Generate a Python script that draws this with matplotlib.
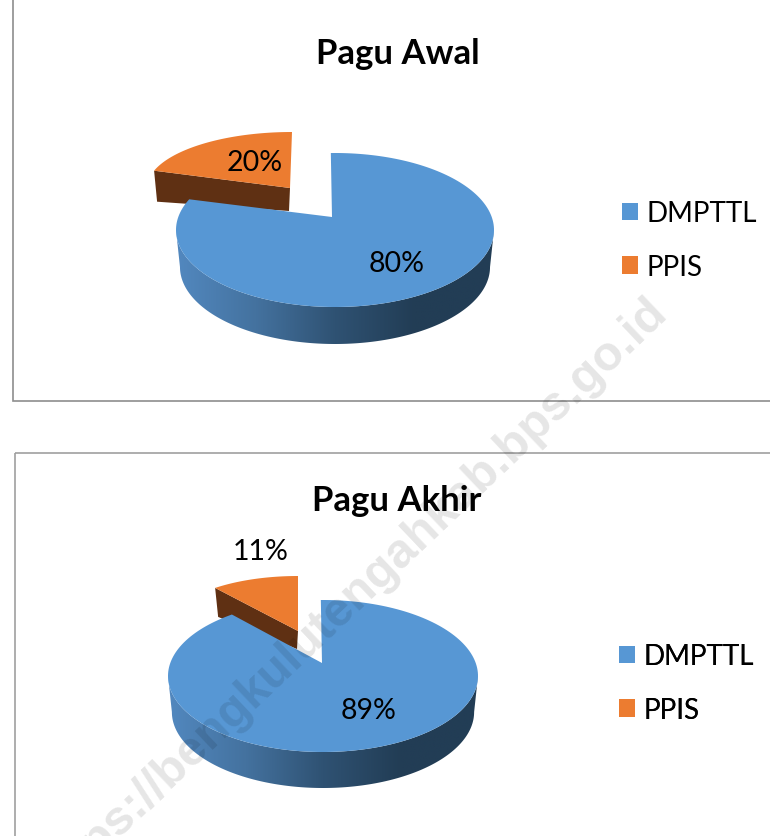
import numpy as np
import matplotlib
matplotlib.use("Agg")
import matplotlib.pyplot as plt
from matplotlib.colors import LinearSegmentedColormap
from matplotlib.patches import Patch, Polygon, Rectangle

categories = ["DMPTTL", "PPIS"]
titles = ["Pagu Awal", "Pagu Akhir"]
awal_values = [80, 20]
akhir_values = [89, 11]
watermark = "https://bengkulutengahkab.bps.go.id"

BLUE = "#5797d4"
ORANGE = "#ec7c30"
BROWN = "#5f3013"
side_cmap = LinearSegmentedColormap.from_list(
    "side", ["#5288bf", "#44729f", "#2f5273", "#223d55", "#223d55"])

plt.rcParams["font.family"] = ["Lato", "DejaVu Sans"]

W, H = 770, 837
fig = plt.figure(figsize=(W / 100, H / 100), dpi=100)
# whole figure is one axes in pixel units, y going down like the picture
ax = fig.add_axes([0, 0, 1, 1])
ax.set_xlim(0, W)
ax.set_ylim(H, 0)
ax.axis("off")


def rim(cx, cy, rx, ry, t0, t1):
    # t is degrees clockwise from 12 o'clock
    t = np.radians(np.linspace(t0, t1, 200))
    return np.column_stack([cx + rx * np.sin(t), cy - ry * np.cos(t)])


def draw_pie(values, big, small, label_pos):
    total = sum(values)
    sweep = 360 * values[0] / total

    # exploded small slice goes first, big slice covers the bottom of it
    arc = rim(small["cx"], small["cy"], small["rx"], small["ry"], sweep, 360)
    vx, vy = small["vertex"]
    left = arc[0]
    side = [left, (vx, vy), (vx - 1, vy + small["d_near"]),
            (left[0] + small["shift"], left[1] + small["d_far"])]
    ax.add_patch(Polygon(side, fc=BROWN, ec="none", zorder=2))
    ax.add_patch(Polygon(np.vstack([[(vx, vy)], arc]), fc=ORANGE, ec="none", zorder=3))

    # curved side of the big slice with left to right shading
    cx, cy, rx, ry, depth = big["cx"], big["cy"], big["rx"], big["ry"], big["depth"]
    upper = rim(cx, cy, rx, ry, 90, 270)
    lower = rim(cx, cy + depth, rx * 0.975, ry, 270, 90)
    side_poly = Polygon(np.vstack([upper, lower]), fc="none", ec="none", zorder=4)
    ax.add_patch(side_poly)
    grad = ax.imshow(np.linspace(0, 1, 256).reshape(1, -1), cmap=side_cmap,
                     extent=(cx - rx, cx + rx, cy + ry + depth, cy), aspect="auto",
                     zorder=4, interpolation="bilinear")
    grad.set_clip_path(side_poly)

    # top face, the tilt of the view pulls the cut edges off the true angle a little
    top = rim(cx, cy, rx, ry, big["lead"], sweep + big["lag"])
    ax.add_patch(Polygon(np.vstack([[big["vertex"]], top]), fc=BLUE, ec="none", zorder=5))

    for (x, y), v in zip(label_pos, values):
        ax.text(x, y, f"{v}%", fontsize=20.5, ha="center", va="center", color="black", zorder=6)


# frames, running off the edge of the picture like the original screenshot
ax.add_patch(Rectangle((13, -20), 800, 421.5, fc="none", ec="#8e8e8e", lw=1.2, zorder=1))
ax.add_patch(Rectangle((15, 453.5), 800, 420, fc="none", ec="#a0a0a0", lw=1.2, zorder=1))

draw_pie(awal_values,
         dict(cx=335, cy=231, rx=159, ry=77, depth=37, vertex=(332, 218), lead=-1.5, lag=5.5),
         dict(cx=292, cy=189, rx=145, ry=56, vertex=(290, 189), d_near=23, d_far=31, shift=3),
         [(397, 264), (255, 163)])
draw_pie(akhir_values,
         dict(cx=323, cy=677, rx=155, ry=76, depth=36, vertex=(322, 664), lead=-0.8, lag=3.6),
         dict(cx=298, cy=629, rx=130, ry=52, vertex=(298, 632), d_near=18, d_far=29, shift=3),
         [(369, 711), (261, 552)])

ax.text(398, 54, titles[0], fontsize=25, fontweight="bold", ha="center", va="center", zorder=6)
ax.text(397, 501, titles[1], fontsize=25, fontweight="bold", ha="center", va="center", zorder=6)

handles = [Patch(fc=BLUE, ec="none"), Patch(fc=ORANGE, ec="none")]
for anchor in [(622, 241), (619, 684)]:
    leg = ax.legend(handles, categories, loc="center left", bbox_to_anchor=anchor,
                    bbox_transform=ax.transData, frameon=False, fontsize=20,
                    handlelength=0.58, handleheight=0.58, handletextpad=0.3,
                    labelspacing=1.0, borderpad=0, borderaxespad=0)
    leg.set_zorder(6)
    ax.add_artist(leg)

ax.text(660, 305, watermark, fontsize=35, fontweight="bold", family="Liberation Sans",
        color="black", alpha=0.1, rotation=43.5, rotation_mode="anchor",
        ha="right", va="center", zorder=7)

ax.set_xlim(0, W)
ax.set_ylim(H, 0)
fig.savefig("out.png", dpi=100)
